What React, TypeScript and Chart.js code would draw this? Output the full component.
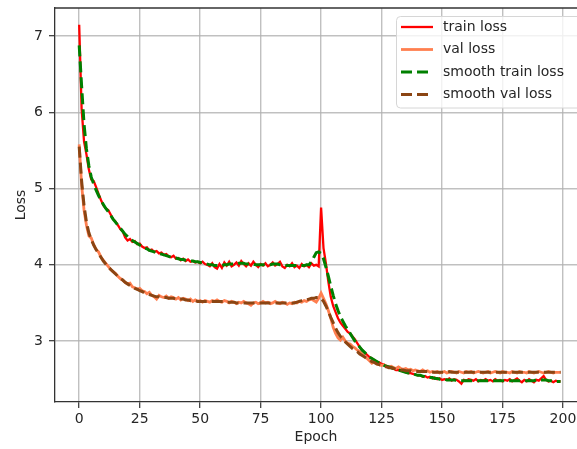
import React, { useEffect, useRef } from "react";
import { Chart, registerables } from "chart.js";

Chart.register(...registerables);

const epochs: number[] = Array.from({ length: 200 }, (_, i) => i);

const trainLoss: number[] = [
  7.15, 6.05, 5.62, 5.45, 5.25, 5.12, 5.10, 5.02, 4.93, 4.85,
  4.78, 4.74, 4.72, 4.66, 4.60, 4.57, 4.52, 4.47, 4.44, 4.36,
  4.32, 4.34, 4.30, 4.31, 4.27, 4.28, 4.24, 4.22, 4.23, 4.19,
  4.20, 4.17, 4.18, 4.15, 4.16, 4.13, 4.14, 4.11, 4.10, 4.12,
  4.08, 4.09, 4.06, 4.08, 4.05, 4.07, 4.04, 4.05, 4.03, 4.04,
  4.02, 4.04, 4.01, 4.00, 3.98, 4.02, 3.97, 3.95, 4.01, 3.96,
  4.03, 3.99, 4.04, 3.98, 4.00, 4.03, 3.99, 4.05, 4.01, 3.98,
  4.02, 3.99, 4.04, 4.00, 3.97, 4.01, 3.99, 4.02, 3.98, 4.00,
  4.03, 3.99, 4.01, 4.04, 3.98, 3.96, 4.00, 3.98, 4.02, 3.97,
  3.99, 3.96, 4.01, 3.98, 4.00, 3.97, 4.02, 3.99, 4.00, 3.98,
  4.75, 4.22, 4.02, 3.78, 3.58, 3.46, 3.38, 3.30, 3.24, 3.20,
  3.16, 3.12, 3.10, 3.06, 3.02, 2.97, 2.92, 2.88, 2.85, 2.82,
  2.79, 2.77, 2.75, 2.73, 2.72, 2.70, 2.69, 2.67, 2.66, 2.65,
  2.64, 2.62, 2.62, 2.61, 2.60, 2.59, 2.58, 2.58, 2.57, 2.56,
  2.55, 2.55, 2.53, 2.54, 2.52, 2.53, 2.51, 2.52, 2.50, 2.51,
  2.49, 2.50, 2.49, 2.51, 2.48, 2.50, 2.49, 2.47, 2.44, 2.49,
  2.48, 2.50, 2.49, 2.48, 2.50, 2.47, 2.49, 2.48, 2.50, 2.48,
  2.49, 2.47, 2.50, 2.48, 2.49, 2.47, 2.49, 2.48, 2.50, 2.47,
  2.49, 2.51, 2.48, 2.46, 2.49, 2.47, 2.50, 2.48, 2.46, 2.49,
  2.48, 2.51, 2.54, 2.49, 2.47, 2.48, 2.46, 2.48, 2.47, 2.47,
];

const valLoss: number[] = [
  5.58, 5.05, 4.72, 4.52, 4.38, 4.35, 4.26, 4.20, 4.17, 4.10,
  4.06, 4.02, 3.98, 3.94, 3.91, 3.89, 3.85, 3.82, 3.80, 3.77,
  3.75, 3.76, 3.71, 3.70, 3.68, 3.69, 3.66, 3.65, 3.62, 3.64,
  3.60, 3.58, 3.55, 3.60, 3.58, 3.57, 3.59, 3.56, 3.58, 3.57,
  3.55, 3.57, 3.54, 3.56, 3.55, 3.53, 3.55, 3.52, 3.54, 3.52,
  3.53, 3.51, 3.53, 3.52, 3.51, 3.53, 3.52, 3.54, 3.52, 3.51,
  3.53, 3.52, 3.50, 3.52, 3.51, 3.49, 3.51, 3.50, 3.52, 3.50,
  3.49, 3.47, 3.50, 3.51, 3.49, 3.50, 3.52, 3.50, 3.51, 3.49,
  3.50, 3.52, 3.50, 3.49, 3.51, 3.50, 3.48, 3.50, 3.49, 3.51,
  3.50, 3.52, 3.51, 3.53, 3.52, 3.54, 3.55, 3.53, 3.51, 3.56,
  3.63, 3.56, 3.49, 3.40, 3.30, 3.18, 3.10, 3.04, 3.01, 3.05,
  3.00, 2.97, 2.96, 2.93, 2.91, 2.88, 2.86, 2.83, 2.80, 2.77,
  2.74, 2.71, 2.73, 2.70, 2.69, 2.68, 2.69, 2.67, 2.66, 2.67,
  2.65, 2.64, 2.66, 2.64, 2.63, 2.64, 2.62, 2.63, 2.61, 2.62,
  2.61, 2.60, 2.62, 2.60, 2.61, 2.59, 2.60, 2.59, 2.60, 2.58,
  2.59, 2.60, 2.58, 2.59, 2.60, 2.59, 2.58, 2.60, 2.59, 2.58,
  2.60, 2.59, 2.60, 2.58, 2.59, 2.60, 2.59, 2.58, 2.59, 2.60,
  2.58, 2.59, 2.60, 2.59, 2.58, 2.60, 2.59, 2.59, 2.58, 2.60,
  2.59, 2.58, 2.60, 2.59, 2.59, 2.58, 2.60, 2.59, 2.58, 2.59,
  2.60, 2.59, 2.58, 2.59, 2.60, 2.59, 2.58, 2.59, 2.59, 2.59,
];

const smoothTrainLoss: number[] = [
  6.88, 6.35, 5.85, 5.52, 5.30, 5.15, 5.06, 4.98, 4.91, 4.85,
  4.79, 4.74, 4.70, 4.65, 4.60, 4.56, 4.52, 4.48, 4.44, 4.40,
  4.37, 4.34, 4.32, 4.30, 4.28, 4.26, 4.24, 4.22, 4.21, 4.19,
  4.18, 4.17, 4.16, 4.15, 4.14, 4.13, 4.12, 4.11, 4.10, 4.10,
  4.09, 4.08, 4.07, 4.07, 4.06, 4.06, 4.05, 4.05, 4.04, 4.04,
  4.03, 4.03, 4.02, 4.01, 4.00, 4.00, 3.99, 3.99, 3.99, 3.99,
  4.00, 4.00, 4.01, 4.01, 4.01, 4.01, 4.02, 4.02, 4.02, 4.01,
  4.01, 4.01, 4.01, 4.00, 4.00, 4.00, 4.00, 4.00, 4.00, 4.00,
  4.01, 4.01, 4.01, 4.00, 4.00, 3.99, 3.99, 3.99, 3.99, 3.99,
  3.99, 3.99, 3.99, 3.99, 4.00, 4.00, 4.04, 4.10, 4.16, 4.17,
  4.15, 4.08, 3.97, 3.85, 3.72, 3.60, 3.49, 3.40, 3.32, 3.26,
  3.20, 3.15, 3.10, 3.05, 3.00, 2.96, 2.92, 2.88, 2.85, 2.82,
  2.79, 2.77, 2.75, 2.73, 2.71, 2.70, 2.68, 2.67, 2.66, 2.65,
  2.64, 2.63, 2.62, 2.61, 2.60, 2.59, 2.58, 2.58, 2.57, 2.56,
  2.55, 2.55, 2.54, 2.53, 2.53, 2.52, 2.52, 2.51, 2.51, 2.50,
  2.50, 2.50, 2.49, 2.49, 2.49, 2.49, 2.48, 2.48, 2.48, 2.48,
  2.48, 2.48, 2.48, 2.48, 2.48, 2.48, 2.48, 2.48, 2.48, 2.48,
  2.48, 2.48, 2.48, 2.48, 2.48, 2.48, 2.48, 2.48, 2.48, 2.48,
  2.48, 2.48, 2.48, 2.48, 2.48, 2.48, 2.48, 2.48, 2.48, 2.49,
  2.49, 2.49, 2.49, 2.49, 2.48, 2.48, 2.48, 2.47, 2.47, 2.47,
];

const smoothValLoss: number[] = [
  5.55, 5.10, 4.78, 4.56, 4.42, 4.33, 4.26, 4.20, 4.15, 4.10,
  4.05, 4.01, 3.97, 3.94, 3.91, 3.88, 3.85, 3.82, 3.80, 3.77,
  3.75, 3.73, 3.71, 3.69, 3.68, 3.66, 3.65, 3.63, 3.62, 3.61,
  3.60, 3.59, 3.58, 3.58, 3.57, 3.57, 3.57, 3.56, 3.56, 3.56,
  3.55, 3.55, 3.55, 3.55, 3.54, 3.54, 3.53, 3.53, 3.53, 3.52,
  3.52, 3.52, 3.52, 3.52, 3.52, 3.52, 3.52, 3.52, 3.52, 3.52,
  3.52, 3.51, 3.51, 3.51, 3.51, 3.50, 3.50, 3.50, 3.50, 3.50,
  3.50, 3.50, 3.50, 3.50, 3.50, 3.50, 3.50, 3.50, 3.50, 3.50,
  3.50, 3.50, 3.50, 3.50, 3.50, 3.50, 3.50, 3.50, 3.50, 3.50,
  3.51, 3.52, 3.53, 3.54, 3.54, 3.55, 3.56, 3.56, 3.57, 3.57,
  3.56, 3.52, 3.46, 3.39, 3.31, 3.24, 3.17, 3.11, 3.06, 3.02,
  2.99, 2.96, 2.93, 2.90, 2.88, 2.86, 2.83, 2.81, 2.79, 2.77,
  2.75, 2.73, 2.72, 2.70, 2.69, 2.68, 2.67, 2.66, 2.65, 2.65,
  2.64, 2.63, 2.63, 2.62, 2.62, 2.61, 2.61, 2.61, 2.60, 2.60,
  2.60, 2.60, 2.60, 2.60, 2.60, 2.59, 2.59, 2.59, 2.59, 2.59,
  2.59, 2.59, 2.59, 2.60, 2.59, 2.59, 2.59, 2.59, 2.59, 2.59,
  2.59, 2.59, 2.59, 2.59, 2.59, 2.59, 2.59, 2.59, 2.59, 2.59,
  2.59, 2.59, 2.59, 2.59, 2.59, 2.59, 2.59, 2.59, 2.59, 2.59,
  2.59, 2.59, 2.59, 2.59, 2.59, 2.59, 2.59, 2.59, 2.59, 2.59,
  2.59, 2.59, 2.59, 2.59, 2.59, 2.59, 2.59, 2.59, 2.59, 2.59,
];

const xTicks: number[] = [0, 25, 50, 75, 100, 125, 150, 175, 200];
const yTicks: number[] = [3, 4, 5, 6, 7];
const seriesNames: string[] = ["train loss", "val loss", "smooth train loss", "smooth val loss"];

const FONT = "'DejaVu Sans', 'Liberation Sans', sans-serif";
const TEXT = "#262626";
const SPINE = "#333333";
const GRID = "rgba(176,176,176,0.8)";

const toPoints = (vals: number[]) => vals.map((v, i) => ({ x: epochs[i], y: v }));

const legendPlugin = {
  id: "customLegend",
  afterDraw(chart: any) {
    const ctx = chart.ctx as CanvasRenderingContext2D;
    const area = chart.chartArea;
    ctx.save();
    // top spine
    ctx.strokeStyle = SPINE;
    ctx.lineWidth = 1.3;
    ctx.beginPath();
    ctx.moveTo(area.left, area.top);
    ctx.lineTo(area.right, area.top);
    ctx.stroke();

    // legend box
    const bx = 396.5, by = 16.5, bw = 190, bh = 91.5, r = 4;
    ctx.beginPath();
    ctx.moveTo(bx + r, by);
    ctx.lineTo(bx + bw - r, by);
    ctx.arcTo(bx + bw, by, bx + bw, by + r, r);
    ctx.lineTo(bx + bw, by + bh - r);
    ctx.arcTo(bx + bw, by + bh, bx + bw - r, by + bh, r);
    ctx.lineTo(bx + r, by + bh);
    ctx.arcTo(bx, by + bh, bx, by + bh - r, r);
    ctx.lineTo(bx, by + r);
    ctx.arcTo(bx, by, bx + r, by, r);
    ctx.closePath();
    ctx.fillStyle = "rgba(255,255,255,0.8)";
    ctx.fill();
    ctx.strokeStyle = "#d6d6d6";
    ctx.lineWidth = 1;
    ctx.stroke();

    const rows = [27, 49.5, 72, 94.5];
    chart.data.datasets.forEach((ds: any, i: number) => {
      const y = rows[i];
      ctx.strokeStyle = ds.borderColor;
      ctx.lineWidth = ds.borderWidth;
      ctx.setLineDash(ds.borderDash || []);
      ctx.beginPath();
      ctx.moveTo(401, y);
      ctx.lineTo(433, y);
      ctx.stroke();
      ctx.setLineDash([]);
      ctx.fillStyle = TEXT;
      ctx.font = `14px ${FONT}`;
      ctx.textAlign = "left";
      ctx.textBaseline = "middle";
      ctx.fillText(seriesNames[i], 443, y);
    });
    ctx.restore();
  },
};

export default function App() {
  const ref = useRef<HTMLCanvasElement | null>(null);

  useEffect(() => {
    if (!ref.current) return;
    const chart = new Chart(ref.current, {
      type: "line",
      data: {
        datasets: [
          {
            label: seriesNames[0],
            data: toPoints(trainLoss),
            borderColor: "#ff0000",
            borderWidth: 2.3,
            pointRadius: 0,
            order: 4,
          },
          {
            label: seriesNames[1],
            data: toPoints(valLoss),
            borderColor: "#ff7f50",
            borderWidth: 2.8,
            pointRadius: 0,
            order: 3,
          },
          {
            label: seriesNames[2],
            data: toPoints(smoothTrainLoss),
            borderColor: "#008000",
            borderWidth: 3,
            borderDash: [11, 5],
            pointRadius: 0,
            order: 2,
          },
          {
            label: seriesNames[3],
            data: toPoints(smoothValLoss),
            borderColor: "#8b4513",
            borderWidth: 3,
            borderDash: [11, 5],
            pointRadius: 0,
            order: 1,
          },
        ],
      },
      options: {
        animation: false,
        responsive: false,
        devicePixelRatio: 1,
        layout: { padding: { left: 0, top: 8, right: 0, bottom: 0 } },
        plugins: {
          legend: { display: false },
          tooltip: { enabled: false },
        },
        font: { family: FONT },
        scales: {
          x: {
            type: "linear",
            min: -10,
            max: 205.8,
            afterBuildTicks: (scale: any) => {
              scale.ticks = xTicks.map((v) => ({ value: v }));
            },
            afterFit: (scale: any) => {
              scale.height = 47;
              scale.paddingLeft = 0;
              scale.paddingRight = 0;
            },
            grid: {
              color: GRID,
              lineWidth: 1.4,
              tickColor: SPINE,
              tickLength: 6,
              tickWidth: 1.2,
            },
            border: { display: true, color: SPINE, width: 1.3 },
            ticks: {
              color: TEXT,
              padding: 3,
              font: { family: FONT, size: 14 },
              maxRotation: 0,
              autoSkip: false,
              callback: (v: any) => String(v),
            },
            title: {
              display: true,
              text: "Epoch",
              color: TEXT,
              font: { family: FONT, size: 14 },
              padding: { top: 0, bottom: 3 },
            },
          },
          y: {
            type: "linear",
            min: 2.2,
            max: 7.37,
            afterBuildTicks: (scale: any) => {
              scale.ticks = yTicks.map((v) => ({ value: v }));
            },
            afterFit: (scale: any) => {
              scale.width = 55;
              scale.paddingTop = 0;
              scale.paddingBottom = 0;
            },
            grid: {
              color: GRID,
              lineWidth: 1.4,
              tickColor: SPINE,
              tickLength: 6,
              tickWidth: 1.2,
            },
            border: { display: true, color: SPINE, width: 1.3 },
            ticks: {
              color: TEXT,
              padding: 6,
              font: { family: FONT, size: 14 },
              callback: (v: any) => String(v),
            },
            title: {
              display: true,
              text: "Loss",
              color: TEXT,
              font: { family: FONT, size: 14 },
              padding: { top: 13, bottom: 0 },
            },
          },
        },
      },
      plugins: [legendPlugin],
    } as any);
    return () => chart.destroy();
  }, []);

  return (
    <div style={{ position: "fixed", left: 0, top: 0, width: 577, height: 449, background: "#fff" }}>
      <canvas ref={ref} width={577} height={449} style={{ display: "block" }} />
    </div>
  );
}
